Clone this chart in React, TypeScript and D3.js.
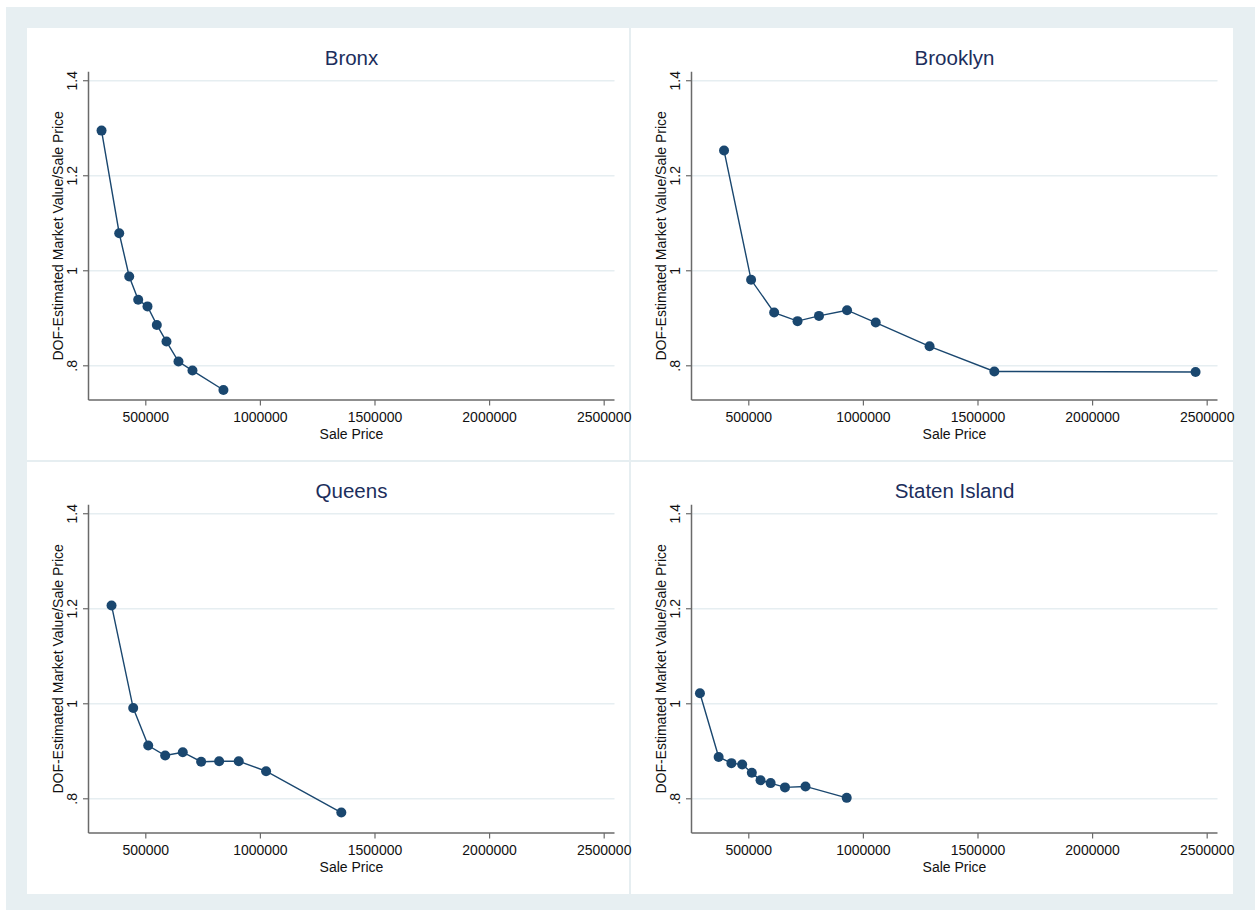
import React from "react";
import * as d3 from "d3";

// Panel titles, in drawing order (row by row)
const boroughs = ["Bronx", "Brooklyn", "Queens", "Staten Island"];

// Sale price (x) and DOF-estimated market value / sale price (y), by borough
const bronxPrice = [306900, 384000, 427600, 466900, 507400, 548000, 590200, 642500, 703600, 838700];
const bronxRatio = [1.295, 1.079, 0.988, 0.939, 0.925, 0.886, 0.851, 0.809, 0.79, 0.749];

const brooklynPrice = [392000, 510000, 610700, 712600, 806200, 928700, 1053800, 1288700, 1571300, 2449300];
const brooklynRatio = [1.253, 0.981, 0.912, 0.894, 0.905, 0.917, 0.891, 0.841, 0.788, 0.787];

const queensPrice = [350500, 445100, 510500, 584600, 661300, 741500, 820000, 905400, 1024800, 1353100];
const queensRatio = [1.207, 0.991, 0.912, 0.891, 0.898, 0.878, 0.879, 0.879, 0.858, 0.771];

const statenPrice = [286800, 368400, 424100, 471100, 513200, 551300, 595200, 657900, 747400, 927200];
const statenRatio = [1.022, 0.888, 0.875, 0.872, 0.855, 0.839, 0.833, 0.824, 0.826, 0.802];

// Axis ticks and their labels
const xTicks = [500000, 1000000, 1500000, 2000000, 2500000];
const xTickLabels = ["500000", "1000000", "1500000", "2000000", "2500000"];
const yTicks = [1.4, 1.2, 1.0, 0.8];
const yTickLabels = ["1.4", "1.2", "1", ".8"];

const xTitle = "Sale Price";
const yTitle = "DOF-Estimated Market Value/Sale Price";

const seriesPrice = [bronxPrice, brooklynPrice, queensPrice, statenPrice];
const seriesRatio = [bronxRatio, brooklynRatio, queensRatio, statenRatio];

const W = 1255;
const H = 912;
const FONT = "'Liberation Sans', Arial, Helvetica, sans-serif";
const BG = "#e7eff2";
const GRID = "#e6eef1";
const AXIS = "#6a6a6a";
const MARK = "#1a476f";
const TITLE = "#1c2e5c";

// Combined-graph layout
const inner = { x: 27, y: 28, w: 1206, h: 866 };
const panelW = inner.w / 2;
const panelH = inner.h / 2;
const plotOffsetX = 61.5;
const plotW = 526;
const plotTop = 43.7;
const plotBottom = 372;

function Panel({ idx }: { idx: number }) {
  const col = idx % 2;
  const row = Math.floor(idx / 2);
  const ox = inner.x + col * panelW;
  const oy = inner.y + row * panelH;
  const left = ox + plotOffsetX;
  const right = left + plotW;
  const top = oy + plotTop;
  const bottom = oy + plotBottom;

  const x = d3.scaleLinear().domain([250000, 2545000]).range([left, right]);
  const y = d3.scaleLinear().domain([0.728, 1.419]).range([bottom, top]);

  const pts = seriesPrice[idx].map((p, i) => [p, seriesRatio[idx][i]] as [number, number]);
  const line = d3
    .line<[number, number]>()
    .x((d) => x(d[0]))
    .y((d) => y(d[1]));

  const cx = (left + right) / 2;
  const cy = (top + bottom) / 2;

  return (
    <g>
      {/* title */}
      <text
        x={cx}
        y={oy + 36.5}
        textAnchor="middle"
        fontSize={20.5}
        fill={TITLE}
        fontFamily={FONT}
      >
        {boroughs[idx]}
      </text>

      {/* horizontal gridlines */}
      {yTicks.map((t) => (
        <line key={"g" + t} x1={left} x2={right} y1={y(t)} y2={y(t)} stroke={GRID} strokeWidth={1.5} />
      ))}

      {/* y axis */}
      <line x1={left} x2={left} y1={top} y2={bottom} stroke={AXIS} strokeWidth={1.5} />
      {yTicks.map((t, i) => (
        <g key={"y" + t}>
          <line x1={left - 5.5} x2={left} y1={y(t)} y2={y(t)} stroke={AXIS} strokeWidth={1.2} />
          <text
            transform={`translate(${left - 11.5},${y(t)}) rotate(-90)`}
            textAnchor="middle"
            fontSize={14}
            fill="#111"
            fontFamily={FONT}
          >
            {yTickLabels[i]}
          </text>
        </g>
      ))}
      <text
        transform={`translate(${left - 26},${cy}) rotate(-90)`}
        textAnchor="middle"
        fontSize={14}
        fill="#111"
        fontFamily={FONT}
      >
        {yTitle}
      </text>

      {/* x axis */}
      <line x1={left} x2={right} y1={bottom} y2={bottom} stroke={AXIS} strokeWidth={1.5} />
      {xTicks.map((t, i) => (
        <g key={"x" + t}>
          <line x1={x(t)} x2={x(t)} y1={bottom} y2={bottom + 5.5} stroke={AXIS} strokeWidth={1.2} />
          <text
            x={x(t)}
            y={bottom + 21.7}
            textAnchor="middle"
            fontSize={14}
            fill="#111"
            fontFamily={FONT}
          >
            {xTickLabels[i]}
          </text>
        </g>
      ))}
      <text
        x={cx}
        y={bottom + 38.5}
        textAnchor="middle"
        fontSize={14}
        fill="#111"
        fontFamily={FONT}
      >
        {xTitle}
      </text>

      {/* connected scatter */}
      <path d={line(pts) || ""} fill="none" stroke={MARK} strokeWidth={1.4} />
      {pts.map((d, i) => (
        <circle key={i} cx={x(d[0])} cy={y(d[1])} r={5} fill={MARK} />
      ))}
    </g>
  );
}

export default function App() {
  return (
    <div style={{ position: "absolute", left: 0, top: 0, width: W, height: H, background: "#fff" }}>
      <svg width={W} height={H} style={{ display: "block" }}>
        <rect x={0} y={0} width={W} height={H} fill="#fff" />
        <rect x={6} y={7} width={W - 6} height={H - 9} fill={BG} />
        <rect x={inner.x} y={inner.y} width={inner.w} height={inner.h} fill="#fff" />
        {/* panel separators */}
        <line
          x1={inner.x + panelW}
          x2={inner.x + panelW}
          y1={inner.y}
          y2={inner.y + inner.h}
          stroke={GRID}
          strokeWidth={2}
        />
        <line
          x1={inner.x}
          x2={inner.x + inner.w}
          y1={inner.y + panelH}
          y2={inner.y + panelH}
          stroke={GRID}
          strokeWidth={2}
        />
        {boroughs.map((_, i) => (
          <Panel key={i} idx={i} />
        ))}
      </svg>
    </div>
  );
}
